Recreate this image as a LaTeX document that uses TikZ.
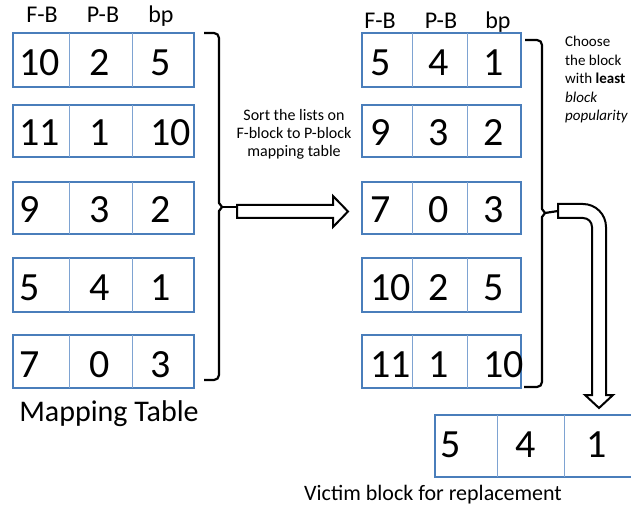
\documentclass[tikz,border=0pt]{standalone}
\usepackage{fontspec}
\setmainfont{Carlito}
\definecolor{cellblue}{HTML}{4A7EBB}
\definecolor{divblue}{HTML}{7EA3D2}
\tikzset{
  rowbox/.style={draw=cellblue, line width=1.8pt},
  cellsep/.style={draw=divblue, line width=1pt},
  num/.style={font=\fontsize{40}{40}\selectfont, inner sep=0pt},
  head/.style={font=\fontsize{24}{24}\selectfont, inner sep=0pt, anchor=base},
  smalltxt/.style={font=\fontsize{16}{18}\selectfont, inner sep=0pt},
  brace/.style={draw=black, line width=2.2pt, line join=round},
  blockarrow/.style={draw=black, fill=white, line width=2pt, line join=miter},
}
\begin{document}
\begin{tikzpicture}[x=1pt,y=-1pt]
\useasboundingbox (0,0) rectangle (631,510);

% column headings
\node[head] (lh1) at (42,23) {F-B};
\node[head] (lh2) at (103,23) {P-B};
\node[head] (lh3) at (161,23) {bp};
\node[head] (rh1) at (380,29) {F-B};
\node[head] (rh2) at (441,29) {P-B};
\node[head] (rh3) at (498,29) {bp};

% mapping table (left) and sorted table (right): row frames
\foreach \t/\b in {33/87,105/157,182/234,258/312,335/388}{
  \draw[rowbox] (13,\t) rectangle (194,\b);
  \draw[cellsep] (69,\t) -- (69,\b) (132,\t) -- (132,\b);
  \draw[rowbox] (362,\t) rectangle (521,\b);
  \draw[cellsep] (412,\t) -- (412,\b) (467,\t) -- (467,\b);
}
\foreach \y/\a/\b/\c [count=\i] in {76/10/2/5,146/11/1/10,223/9/3/2,301/5/4/1,377/7/0/3}{
  \node[num, anchor=base west] (la\i) at (19,\y) {\a};
  \node[num, anchor=base] (lb\i) at (100,\y) {\b};
  \node[num, anchor=base west] (lc\i) at (150,\y) {\c};
}
\foreach \y/\a/\b/\c [count=\i] in {76/5/4/1,146/9/3/2,223/7/0/3,301/10/2/5,377/11/1/10}{
  \node[num, anchor=base west] (ra\i) at (370,\y) {\a};
  \node[num, anchor=base] (rb\i) at (439,\y) {\b};
  \node[num, anchor=base west] (rc\i) at (483,\y) {\c};
}

% victim row
\draw[rowbox] (435,415) rectangle (634,477);
\draw[cellsep] (497,415) -- (497,477) (564,415) -- (564,477);
\node[num, anchor=base west] (va) at (440,457) {5};
\node[num, anchor=base] (vb) at (526,457) {4};
\node[num, anchor=base] (vc) at (597,457) {1};

% captions
\node[font=\fontsize{30}{30}\selectfont, inner sep=0pt, anchor=base] (cap1) at (109,421) {Mapping Table};
\node[font=\fontsize{22}{22}\selectfont, inner sep=0pt, anchor=base] (cap2) at (433,500) {Victim block for replacement};

% braces
\coordinate (ltip) at (222,207);
\coordinate (rtip) at (545,213);
\draw[brace] (204,33) [rounded corners=5pt] -- (219,33) -- (219,120) [sharp corners]
  -- (219,203) -- (ltip) -- (219,211) -- (219,300) [rounded corners=5pt] -- (219,380) -- (204,380);
\draw[brace] (525,40) [rounded corners=5pt] -- (542,40) -- (542,120) [sharp corners]
  -- (542,209) -- (rtip) -- (542,217) -- (542,300) [rounded corners=5pt] -- (542,387) -- (524,387);

% straight block arrow
\coordinate (sa) at (237,207);
\draw[brace] (ltip) -- (sa);
\draw[blockarrow] (237,205) -- (333,205) -- (333,196) -- (348,211.5) -- (333,227) -- (333,218) -- (237,218) -- cycle;
\node[smalltxt, align=center, anchor=base] (sorttxt) at (294,157)
  {Sort the lists on\\F-block to P-block\\mapping table};

% bent block arrow (quarter-circle bends around the centre (583,227))
\coordinate (ba) at (558,211);
\draw[brace] (rtip) -- (ba);
\draw[blockarrow] (558,204) -- (583,204)
  .. controls (595.7,204) and (606,214.3) .. (606,227)
  -- (606,395) -- (613,395) -- (599,408) -- (585,395) -- (592,395) -- (592,227)
  .. controls (592,222) and (588,218) .. (583,218)
  -- (558,218) -- cycle;
\node[font=\fontsize{15}{18.6}\selectfont, inner sep=0pt, align=left, anchor=base west] (choosetxt) at (565,121)
  {Choose\\the block\\with \textbf{least}\\\textit{block}\\\textit{popularity}};
\end{tikzpicture}
\end{document}
